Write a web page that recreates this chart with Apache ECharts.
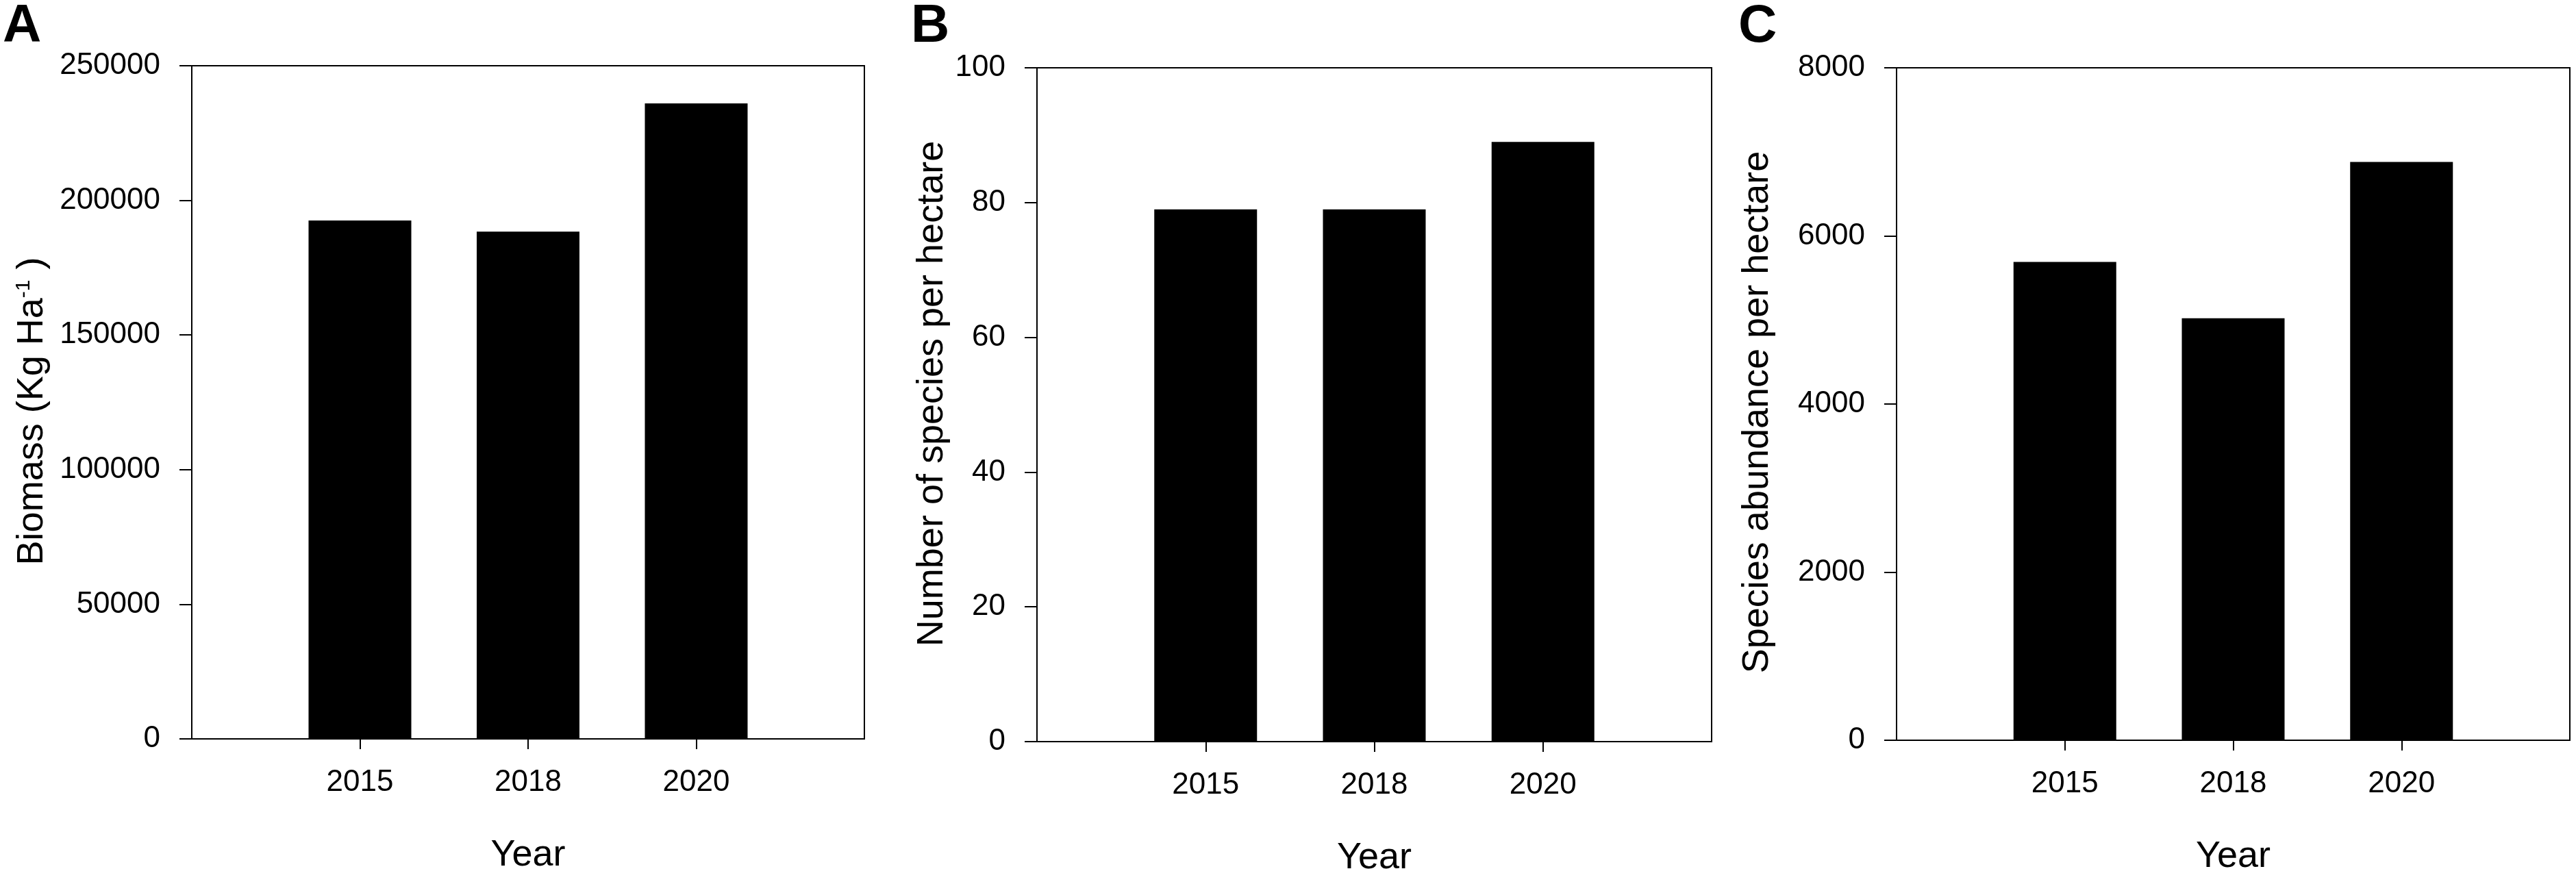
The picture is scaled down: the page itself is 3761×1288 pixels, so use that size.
<!DOCTYPE html>
<html>
<head>
<meta charset="utf-8">
<script src="https://cdn.jsdelivr.net/npm/echarts@6/dist/echarts.min.js"></script>
<style>
  html, body { margin: 0; padding: 0; background: #fff; }
  #main { width: 3761px; height: 1288px; }
</style>
</head>
<body>
<div id="main"></div>
<script>
// 数据
var years = ['2015', '2018', '2020'];
var biomass = [192500, 188400, 236000];       // Kg Ha-1
var speciesCount = [79, 79, 89];              // 每公顷物种数
var abundance = [5690, 5020, 6880];           // 每公顷个体数

var biomassTicks = [0, 250000, 50000];        // min, max, interval
var speciesTicks = [0, 100, 20];
var abundanceTicks = [0, 8000, 2000];

var FONT = '"Liberation Sans", Arial, Helvetica, sans-serif';

// 两边各留一个空位, 柱子落在 1/4, 2/4, 3/4 处
var cats = [''].concat(years).concat(['']);
function padData(arr) {
    return ['-'].concat(arr).concat(['-']);
}
function isYear(idx) {
    return idx > 0 && idx < cats.length - 1;
}

var grids = [
    { left: 280, top: 96, width: 982, height: 983 },
    { left: 1514, top: 99, width: 985, height: 984 },
    { left: 2769, top: 99, width: 983, height: 982 }
];

function xAxisFor(i) {
    return {
        type: 'category',
        gridIndex: i,
        data: cats,
        boundaryGap: false,
        name: 'Year',
        nameLocation: 'middle',
        nameGap: 143,
        nameTextStyle: { fontFamily: FONT, fontSize: 54, color: '#000' },
        axisLine: { lineStyle: { color: '#000', width: 2 } },
        axisTick: {
            length: 15,
            lineStyle: { color: '#000', width: 2 },
            interval: function (idx) { return isYear(idx); }
        },
        axisLabel: {
            margin: 42,
            fontFamily: FONT,
            fontSize: 44,
            color: '#000',
            interval: function (idx) { return isYear(idx); }
        },
        splitLine: { show: false }
    };
}

function yAxisFor(i, ticks, name, gap, pad, rich) {
    return {
        type: 'value',
        gridIndex: i,
        min: ticks[0],
        max: ticks[1],
        interval: ticks[2],
        name: name,
        nameLocation: 'middle',
        nameGap: gap,
        nameTextStyle: {
            fontFamily: FONT,
            fontSize: 54,
            color: '#000',
            padding: pad,
            rich: rich
        },
        axisLine: { show: true, lineStyle: { color: '#000', width: 2 } },
        axisTick: { show: true, length: 18, lineStyle: { color: '#000', width: 2 } },
        axisLabel: {
            margin: 46,
            fontFamily: FONT,
            fontSize: 44,
            color: '#000',
            formatter: function (v) { return String(v); }
        },
        splitLine: { show: false }
    };
}

function barSeries(i, values) {
    return {
        type: 'bar',
        xAxisIndex: i,
        yAxisIndex: i,
        data: padData(values),
        barWidth: 150,
        itemStyle: { color: '#000' },
        animation: false
    };
}

var chart = echarts.init(document.getElementById('main'));
var option = {
    backgroundColor: '#fff',
    animation: false,
    title: [
        { text: 'A', left: 4, top: 0, padding: 0, textStyle: { fontFamily: FONT, fontSize: 78, fontWeight: 'bold', color: '#000' } },
        { text: 'B', left: 1330, top: 0, padding: 0, textStyle: { fontFamily: FONT, fontSize: 78, fontWeight: 'bold', color: '#000' } },
        { text: 'C', left: 2538, top: 0, padding: 0, textStyle: { fontFamily: FONT, fontSize: 78, fontWeight: 'bold', color: '#000' } }
    ],
    grid: grids.map(function (g) {
        return {
            left: g.left, top: g.top, width: g.width, height: g.height,
            show: true, borderColor: '#000', borderWidth: 2, backgroundColor: 'transparent'
        };
    }),
    xAxis: [xAxisFor(0), xAxisFor(1), xAxisFor(2)],
    yAxis: [
        yAxisFor(0, biomassTicks, 'Biomass (Kg Ha{sup|-1} )', 206, [0, 26, 0, 0],
            { sup: { fontFamily: FONT, fontSize: 30, color: '#000', verticalAlign: 'top' } }),
        yAxisFor(1, speciesTicks, 'Number of species per hectare', 126, [0, 0, 0, 32]),
        yAxisFor(2, abundanceTicks, 'Species abundance per hectare', 176, [0, 24, 0, 0])
    ],
    series: [
        barSeries(0, biomass),
        barSeries(1, speciesCount),
        barSeries(2, abundance)
    ]
};
chart.setOption(option);
</script>
</body>
</html>
